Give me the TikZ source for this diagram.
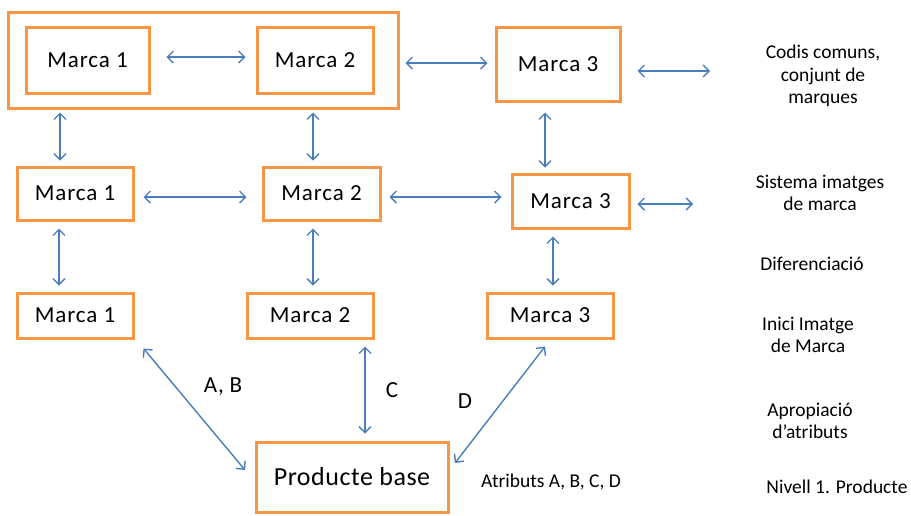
\documentclass[tikz,border=0pt]{standalone}
\usepackage{fontspec}
\setmainfont{Carlito}
\usetikzlibrary{arrows.meta}
\definecolor{boxorange}{HTML}{F79646}
\definecolor{linkblue}{HTML}{4A7EBB}
\tikzset{
  brand/.style={draw=boxorange, line width=3pt, fill=white, inner sep=0pt,
    font=\fontsize{23}{26}\selectfont\addfontfeature{LetterSpace=4}},
  frame/.style={draw=boxorange, line width=3pt, inner sep=0pt},
  link/.style={draw=linkblue, line width=1.4pt,
    {Straight Barb[length=6pt,width=12pt]}-{Straight Barb[length=6pt,width=12pt]}},
  level/.style={align=center, inner sep=0pt, font=\fontsize{19.5}{22.5}\selectfont},
  attr/.style={inner sep=0pt, font=\fontsize{23}{26}\selectfont\addfontfeature{LetterSpace=3}}
}
\begin{document}
\begin{tikzpicture}[x=1pt, y=-1pt]
\useasboundingbox (0,0) rectangle (911,515);

% level 4: common codes
\node[frame, minimum width=390pt, minimum height=96pt] (group) at (203,60) {};
\node[brand, minimum width=123pt, minimum height=66pt] (a1) at (87.5,60) {Marca 1};
\node[brand, minimum width=116pt, minimum height=66pt] (a2) at (315,60) {Marca 2};
\node[brand, minimum width=124pt, minimum height=74pt] (a3) at (558,64) {Marca 3};

% level 3: brand image system
\node[brand, minimum width=116pt, minimum height=53pt] (b1) at (75,193.5) {Marca 1};
\node[brand, minimum width=117pt, minimum height=53pt] (b2) at (321.5,193.5) {Marca 2};
\node[brand, minimum width=117pt, minimum height=54pt] (b3) at (570.5,201) {Marca 3};

% level 2: start of brand image
\node[brand, minimum width=116pt, minimum height=45pt] (c1) at (75,315.5) {Marca 1};
\node[brand, minimum width=126pt, minimum height=45pt] (c2) at (310,315.5) {Marca 2};
\node[brand, minimum width=126pt, minimum height=45pt] (c3) at (550,315.5) {Marca 3};

% level 1: base product
\node[brand, minimum width=192pt, minimum height=70pt,
  font=\fontsize{26}{30}\selectfont\addfontfeature{LetterSpace=2}] (base) at (352,477) {Producte base};

% open ends on the right
\coordinate (outA) at (710,71);
\coordinate (outB) at (693,204);

% horizontal links
\draw[link] ([shift={(16,-3)}]a1.east) -- ([shift={(-10,-3)}]a2.west);
\draw[link] ([shift={(6,3)}]group.east) -- ([shift={(-7,-1)}]a3.west);
\draw[link] ([shift={(16,7)}]a3.east) -- (outA);
\draw[link] ([shift={(9,3.5)}]b1.east) -- ([shift={(-15,3.5)}]b2.west);
\draw[link] ([shift={(8,3.5)}]b2.east) -- ([shift={(-9,-4)}]b3.west);
\draw[link] ([shift={(7,3)}]b3.east) -- (outB);

% vertical links
\draw[link] ([xshift=-15pt]b1.north |- group.south) ++(0,3) -- ([shift={(-15,-5)}]b1.north);
\draw[link] ([xshift=-8.5pt]b2.north |- group.south) ++(0,3) -- ([shift={(-8.5,-5)}]b2.north);
\draw[link] ([shift={(-13,10)}]a3.south) -- ([shift={(-25.5,-5)}]b3.north);
\draw[link] ([shift={(-16,7)}]b1.south) -- ([shift={(-16,-6)}]c1.north);
\draw[link] ([shift={(-8.5,7)}]b2.south) -- ([shift={(3,-6)}]c2.north);
\draw[link] ([shift={(-17.5,7)}]b3.south) -- ([shift={(3,-6)}]c3.north);

% links down to the base product
\draw[link] ([shift={(9,9)}]c1.south east) -- ([shift={(-9.5,-7)}]base.west);
\draw[link] ([shift={(55,7)}]c2.south) -- ([shift={(13,-7)}]base.north);
\draw[link] ([shift={(-5,7)}]c3.south) -- ([shift={(5.5,-14)}]base.east);

% attribute letters
\node[attr] (lab) at (223,387) {A, B};
\node[attr] (lc) at (392,390) {C};
\node[attr] (ld) at (465,401) {D};
\node[level] (atr) at (551,482) {Atributs A, B, C, D};

% level captions
\node[level] (t4) at (823,76) {Codis comuns,\\conjunt de\\marques};
\node[level] (t3) at (820,193) {Sistema imatges\\de marca};
\node[level] (t25) at (812,264) {Diferenciació};
\node[level] (t2) at (808,335) {Inici Imatge\\de Marca};
\node[level] (t15) at (810,421) {Apropiació\\d’atributs};
\node[level] (t1) at (837,487) {Nivell 1. Producte};
\end{tikzpicture}
\end{document}
